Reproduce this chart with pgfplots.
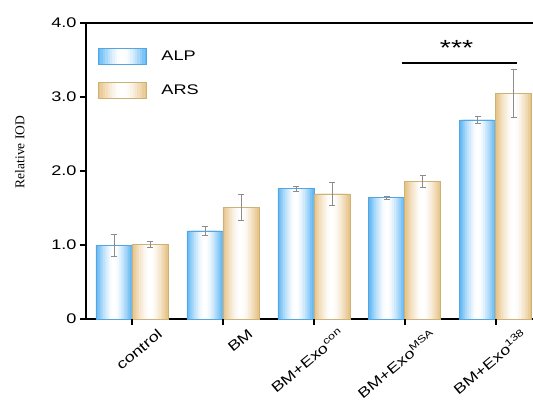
\documentclass[border=0pt]{standalone}
\usepackage{pgfplots}
\usepackage{pgfplotstable}
\pgfplotsset{compat=1.18}
\usepackage{fontspec}
\setmainfont{Liberation Sans}[FakeStretch=1.3]
\newfontfamily\seriffont{Liberation Serif}
\definecolor{blueE}{RGB}{100,185,245}
\definecolor{blueD}{RGB}{85,165,225}
\definecolor{tanE}{RGB}{232,196,138}
\definecolor{tanD}{RGB}{205,178,120}
\definecolor{errc}{RGB}{140,140,140}
\pgfplotstableread{
x alp alpe ars arse
0 1.00 0.15 1.01 0.04
1 1.19 0.06 1.51 0.18
2 1.76 0.04 1.69 0.16
3 1.64 0.02 1.86 0.08
4 2.69 0.05 3.05 0.32
}\datatable
% one gradient layer: width, offset, colour, column
\newcommand{\layer}[4]{\addplot[ybar, bar width=#1, bar shift=0pt, fill=#3, draw=none, forget plot] table[x expr=\thisrow{x}+#2, y=#4] {\datatable};}
\newcommand{\gradbars}[3]{% offset, edge colour, column
  \layer{0.396}{#1}{#2}{#3}
  \layer{0.356}{#1}{#2!85!white}{#3}
  \layer{0.317}{#1}{#2!70!white}{#3}
  \layer{0.277}{#1}{#2!56!white}{#3}
  \layer{0.238}{#1}{#2!43!white}{#3}
  \layer{0.198}{#1}{#2!31!white}{#3}
  \layer{0.158}{#1}{#2!20!white}{#3}
  \layer{0.119}{#1}{#2!10!white}{#3}
  \layer{0.079}{#1}{#2!3!white}{#3}
  \layer{0.040}{#1}{white}{#3}
}
\newcommand{\legimg}[2]{%
  \foreach \k/\p in {0/100,1/85,2/70,3/56,4/43,5/31,6/20,7/10,8/3,9/0}
    {\fill[#1!\p!white] (2.4bp*\k,-8bp) rectangle (48bp-2.4bp*\k,8bp);}
  \draw[#2, line width=0.6bp] (0bp,-8bp) rectangle (48bp,8bp);}
\begin{document}
\begin{tikzpicture}
\useasboundingbox (-86bp,-82bp) rectangle (447bp,319bp);
\begin{axis}[
  at={(0,0)}, anchor=south west,
  scale only axis, width=447bp, height=296bp,
  xmin=-0.505, xmax=4.41, ymin=0, ymax=4,
  axis x line*=bottom, axis y line*=left,
  axis line style={line width=2bp, -},
  xtick pos=bottom, ytick pos=left,
  tick align=outside,
  tick style={black, line width=2bp},
  major tick length=6bp,
  xtick={0,1,2,3,4},
  xticklabels={control, BM, BM+Exo\textsuperscript{con}, BM+Exo\textsuperscript{MSA}, BM+Exo\textsuperscript{138}},
  xticklabel style={font=\fontsize{14}{16}\selectfont, xshift=25bp, rotate=40, anchor=north east, inner sep=2bp},
  ytick={0,1,2,3,4},
  yticklabels={0,1.0,2.0,3.0,4.0},
  yticklabel style={font=\fontsize{14}{16}\selectfont},
  clip=false,
  legend style={draw=none, fill=none, at={(axis description cs:0.026,0.915)}, anchor=north west,
    font=\fontsize{14}{16}\selectfont, row sep=17bp, column sep=13bp, inner sep=0pt},
  legend cell align=left,
]
\addlegendimage{legend image code/.code={\legimg{blueE}{blueD}}}
\addlegendentry{ALP}
\addlegendimage{legend image code/.code={\legimg{tanE}{tanD}}}
\addlegendentry{ARS}
\gradbars{-0.198}{blueE}{alp}
\gradbars{0.198}{tanE}{ars}
\addplot[ybar, bar width=0.396, bar shift=0pt, fill=none, draw=blueD, line width=0.6bp, forget plot,
  error bars/.cd, y dir=both, y explicit,
  error bar style={errc, line width=0.6bp},
  error mark options={errc, rotate=90, mark size=3bp, line width=0.6bp}]
  table[x expr=\thisrow{x}-0.198, y=alp, y error=alpe] {\datatable};
\addplot[ybar, bar width=0.396, bar shift=0pt, fill=none, draw=tanD, line width=0.6bp, forget plot,
  error bars/.cd, y dir=both, y explicit,
  error bar style={errc, line width=0.6bp},
  error mark options={errc, rotate=90, mark size=3bp, line width=0.6bp}]
  table[x expr=\thisrow{x}+0.198, y=ars, y error=arse] {\datatable};
\draw[line width=2bp] (rel axis cs:0,1) -- (rel axis cs:1,1);
\pgfplotsinvokeforeach{0,1,2,3,4}{
  \draw[line width=2bp] (axis cs:#1,0) -- ++(0bp,-6bp);
  \draw[line width=2bp] (axis cs:-0.505,#1) -- ++(-6bp,0bp);
}
\draw[line width=1.5bp] (axis cs:2.967,3.46) -- (axis cs:4.23,3.46);
\node[font=\fontsize{22}{24}\selectfont] at (axis cs:3.57,3.66) {***};
\node[rotate=90, font=\seriffont\fontsize{13.5}{15}\selectfont] at (axis description cs:-0.148,0.564) {Relative IOD};
\end{axis}
\end{tikzpicture}
\end{document}
